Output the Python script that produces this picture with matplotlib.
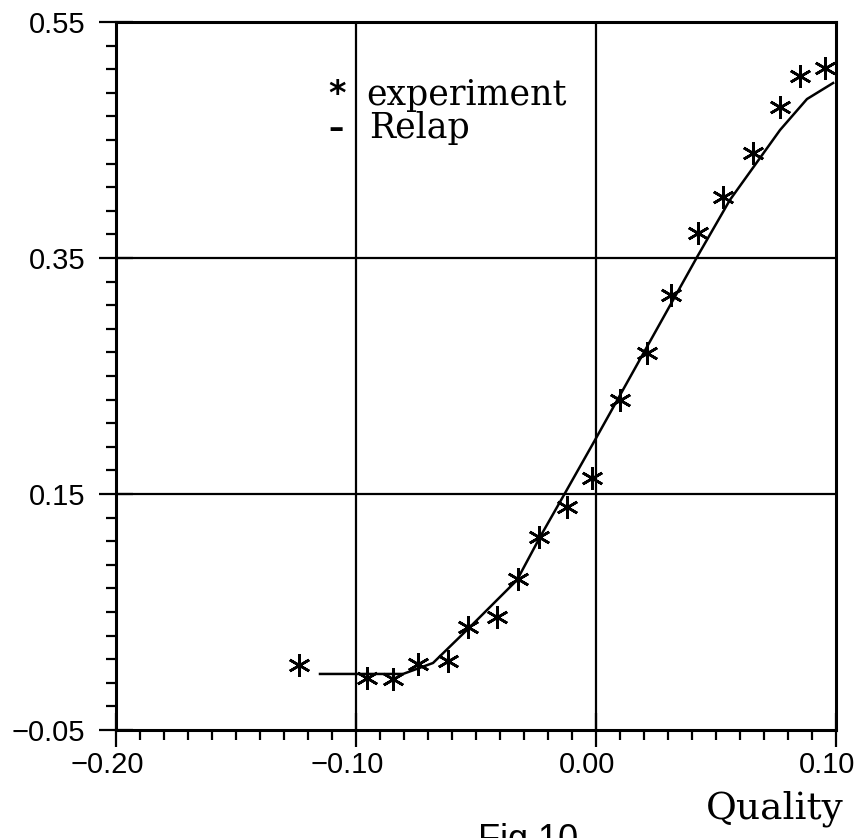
import matplotlib
matplotlib.use("Agg")
import matplotlib.pyplot as plt
import matplotlib.transforms as mtransforms
import numpy as np

# experiment points (quality, value)
exp_x = [-0.1238, -0.0954, -0.0846, -0.0742, -0.0617, -0.0533, -0.0412, -0.0325,
         -0.0238, -0.0121, -0.0017, 0.0100, 0.0213, 0.0313, 0.0425, 0.0529,
         0.0654, 0.0767, 0.0850, 0.0954]
exp_y = [0.0051, -0.0059, -0.0068, 0.0059, 0.0085, 0.0373, 0.0458, 0.0780,
         0.1136, 0.1390, 0.1636, 0.2297, 0.2695, 0.3186, 0.3712, 0.4017,
         0.4390, 0.4780, 0.5042, 0.5110]

# Relap calculation
relap_x = [-0.115, -0.0804, -0.0679, -0.0525, -0.0329, -0.0233, -0.0129, -0.0004,
           0.0421, 0.0558, 0.0767, 0.0879, 0.0988]
relap_y = [-0.0025, -0.0025, 0.0068, 0.0373, 0.0771, 0.1136, 0.1508, 0.1958,
           0.3508, 0.3992, 0.4585, 0.4847, 0.4983]

xticks = [-0.20, -0.10, 0.00, 0.10]
yticks = [-0.05, 0.15, 0.35, 0.55]
xlabels = ["\u22120.20", "\u22120.10", "0.00", "0.10"]
ylabels = ["\u22120.05", "0.15", "0.35", "0.55"]

fig = plt.figure(figsize=(8.58, 8.38), dpi=100)
ax = fig.add_axes([116 / 858, 1 - 730 / 838, 720 / 858, 708 / 838])

for x in xticks[1:-1]:
    ax.axvline(x, color="black", lw=1.6, zorder=1)
for y in yticks[1:-1]:
    ax.axhline(y, color="black", lw=1.6, zorder=1)

ax.plot(relap_x, relap_y, color="black", lw=1.8, zorder=3)
ax.plot(exp_x, exp_y, ls="none", marker=(6, 2, 0), ms=16, mew=1.9,
        color="black", zorder=4)

ax.set_xlim(-0.20, 0.10)
ax.set_ylim(-0.05, 0.55)
ax.set_xticks(xticks)
ax.set_yticks(yticks)
ax.set_xticks(np.arange(-0.20, 0.1001, 0.01), minor=True)
ax.set_yticks(np.arange(-0.05, 0.5501, 0.02), minor=True)
ax.set_xticklabels(xlabels)
ax.set_yticklabels(ylabels)
ax.tick_params(which="major", direction="inout", length=24, width=1.6,
               labelsize=21)
ax.tick_params(axis="x", which="major", pad=3)
ax.tick_params(axis="y", which="major", pad=10)
ax.tick_params(which="minor", direction="out", length=7, width=1.6)
shift = mtransforms.ScaledTranslation(-9 / 100, 0, fig.dpi_scale_trans)
for lab in ax.get_xticklabels():
    lab.set_family("Liberation Sans")
    lab.set_transform(lab.get_transform() + shift)
for lab in ax.get_yticklabels():
    lab.set_family("Liberation Sans")
for s in ax.spines.values():
    s.set_linewidth(2.2)

# legend drawn as text
ax.text(0.307, 0.897, "*", transform=ax.transAxes, fontsize=24, fontweight="bold",
        family="DejaVu Sans", ha="center", va="center")
ax.text(0.347, 0.8828, "experiment", transform=ax.transAxes, fontsize=25,
        family="DejaVu Serif", ha="left", va="baseline")
ax.text(0.305, 0.850, "\u2013", transform=ax.transAxes, fontsize=22, fontweight="bold",
        family="DejaVu Sans", ha="center", va="center")
ax.text(0.351, 0.836, "Relap", transform=ax.transAxes, fontsize=25,
        family="DejaVu Serif", ha="left", va="baseline")

fig.text(844 / 858, 1 - 818 / 838, "Quality", fontsize=27, family="DejaVu Serif",
         ha="right", va="baseline")
fig.text(578 / 858, 1 - 823 / 838, "Fig.10", fontsize=26, family="Liberation Sans",
         ha="right", va="top")

fig.savefig("out.png", dpi=100)
